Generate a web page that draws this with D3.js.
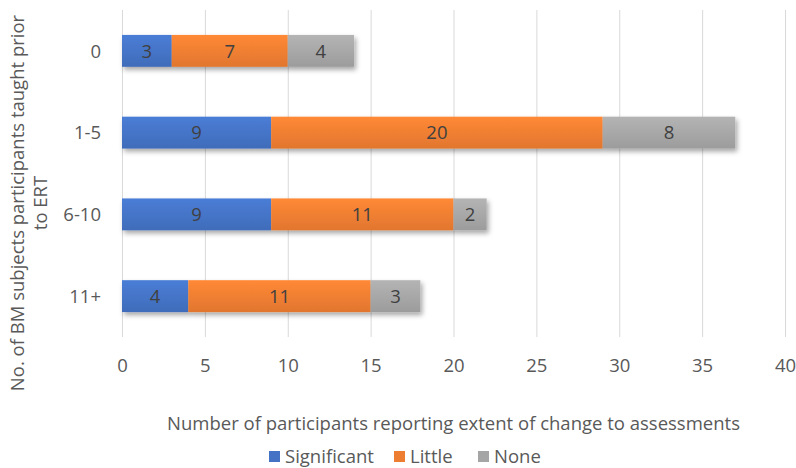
<!DOCTYPE html>
<html>
<head>
<meta charset="utf-8">
<script src="https://cdn.jsdelivr.net/npm/d3@7"></script>
<style>
html,body{margin:0;padding:0;background:#fff;}
svg{display:block;font-family:"Open Sans","Noto Sans",sans-serif;}
</style>
</head>
<body>
<svg id="chart" width="796" height="468"></svg>
<script>
const categories = ["0", "1-5", "6-10", "11+"];
const seriesNames = ["Significant", "Little", "None"];
const significant = [3, 9, 9, 4];
const little = [7, 20, 11, 11];
const none = [4, 8, 2, 3];
const xTicks = [0, 5, 10, 15, 20, 25, 30, 35, 40];
const colors = ["#4472C4", "#ED7D31", "#A5A5A5"];

(function () {
const svg = d3.select("#chart");
const pLeft = 122, pRight = 785, pTop = 10, pBottom = 337;
const FS = 18.5;

const x = d3.scaleLinear().domain([0, 40]).range([pLeft, pRight]);
const y = d3.scaleBand().domain(categories).range([pTop, pBottom]).paddingInner(0.61).paddingOuter(0.305);

const defs = svg.append("defs");
const f = defs.append("filter").attr("id", "sh").attr("x", "-10%").attr("y", "-30%").attr("width", "130%").attr("height", "190%");
f.append("feDropShadow").attr("dx", 2).attr("dy", 3).attr("stdDeviation", 2.5).attr("flood-color", "#000").attr("flood-opacity", 0.35);
colors.forEach((c, i) => {
  const g = defs.append("linearGradient").attr("id", "g" + i).attr("x1", 0).attr("y1", 0).attr("x2", 0).attr("y2", 1);
  g.append("stop").attr("offset", "0%").attr("stop-color", d3.color(c).brighter(0.25));
  g.append("stop").attr("offset", "100%").attr("stop-color", d3.color(c).darker(0.15));
});

const xAxis = d3.axisBottom(x).tickValues(xTicks).tickSize(-(pBottom - pTop)).tickPadding(22);
const gx = svg.append("g").attr("transform", `translate(0,${pBottom})`).call(xAxis);
gx.select(".domain").remove();
gx.selectAll(".tick line").attr("stroke", "#d9d9d9").attr("stroke-width", 1);
gx.selectAll(".tick text").attr("fill", "#595959").attr("font-size", FS).attr("font-family", "Open Sans, sans-serif");

const yAxis = d3.axisLeft(y).tickSize(0).tickPadding(21);
const gy = svg.append("g").attr("transform", `translate(${pLeft},0)`).call(yAxis);
gy.select(".domain").remove();
gy.selectAll(".tick text").attr("fill", "#595959").attr("font-size", FS).attr("font-family", "Open Sans, sans-serif").attr("dy", "0.36em");

const data = categories.map((c, i) => ({cat: c, Significant: significant[i], Little: little[i], None: none[i]}));
const stack = d3.stack().keys(seriesNames)(data);

const rows = svg.append("g");
categories.forEach((c, ci) => {
  const row = rows.append("g").attr("filter", "url(#sh)");
  stack.forEach((s, si) => {
    const d = s[ci];
    row.append("rect")
      .attr("x", x(d[0])).attr("y", y(c))
      .attr("width", x(d[1]) - x(d[0])).attr("height", y.bandwidth())
      .attr("fill", `url(#g${si})`);
  });
});
stack.forEach((s, si) => {
  s.forEach((d, ci) => {
    svg.append("text")
      .attr("x", (x(d[0]) + x(d[1])) / 2)
      .attr("y", y(categories[ci]) + y.bandwidth() / 2)
      .attr("dy", "0.36em")
      .attr("text-anchor", "middle")
      .attr("fill", "#404040").attr("font-size", FS)
      .text(d[1] - d[0]);
  });
});

svg.append("text").attr("x", (pLeft + pRight) / 2).attr("y", 430).attr("text-anchor", "middle")
  .attr("fill", "#595959").attr("font-size", FS)
  .text("Number of participants reporting extent of change to assessments");

const yt = svg.append("text").attr("transform", "translate(24,203) rotate(-90)").attr("text-anchor", "middle")
  .attr("fill", "#595959").attr("font-size", FS);
yt.append("tspan").attr("x", 0).attr("dy", 0).text("No. of BM subjects participants taught prior");
yt.append("tspan").attr("x", 0).attr("dy", 23).text("to ERT");

const legX = [269, 394, 478];
const leg = svg.append("g");
seriesNames.forEach((n, i) => {
  leg.append("rect").attr("x", legX[i]).attr("y", 451).attr("width", 11).attr("height", 11).attr("fill", colors[i]);
  leg.append("text").attr("x", legX[i] + 16).attr("y", 463)
    .attr("fill", "#595959").attr("font-size", FS).text(n);
});
})();
</script>
</body>
</html>
